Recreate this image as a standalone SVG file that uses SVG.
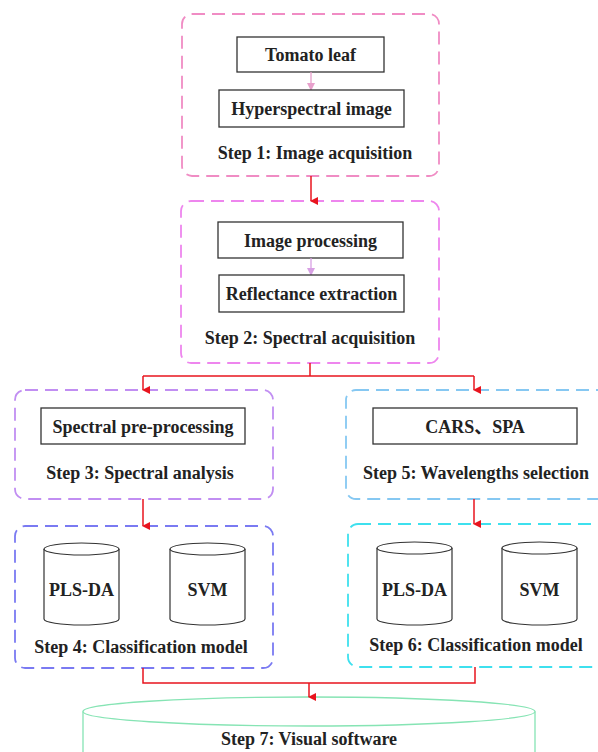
<svg xmlns="http://www.w3.org/2000/svg" width="598" height="752" viewBox="0 0 598 752">
<style>
text{font-family:"Liberation Serif","Times New Roman","Noto Sans CJK SC",serif;font-weight:bold;font-size:18px;fill:#222;text-anchor:middle}
.grp{fill:none;stroke-width:1.8;stroke-dasharray:13 7}
.box{fill:#fff;stroke:#333;stroke-width:1.3}
.cyl{fill:#fff;stroke:#333;stroke-width:1.2}
.red{fill:none;stroke:#e8141e;stroke-width:1.5}
</style>
<defs>
<marker id="ar" markerWidth="8" markerHeight="8" refX="4" refY="7" orient="auto" markerUnits="userSpaceOnUse" viewBox="0 0 8 8"><path d="M0,0 L8,0 L4,8 z" fill="#e8141e"/></marker>
<marker id="arp" markerWidth="8" markerHeight="8" refX="4" refY="7" markerUnits="userSpaceOnUse" viewBox="0 0 8 8"><path d="M0,0 L8,0 L4,8 z" fill="#e8a0cc"/></marker>
<marker id="arv" markerWidth="8" markerHeight="8" refX="4" refY="7" markerUnits="userSpaceOnUse" viewBox="0 0 8 8"><path d="M0,0 L8,0 L4,8 z" fill="#d8a0e4"/></marker>
</defs>

<g id="step1">
<rect class="grp" x="182" y="14" width="257" height="162" rx="10" stroke="#f08cc4"/>
<rect class="box" x="237" y="37" width="147" height="35"/>
<text x="310.5" y="61">Tomato leaf</text>
<line x1="311" y1="72" x2="311" y2="90" stroke="#e8a0cc" stroke-width="1.3" marker-end="url(#arp)"/>
<rect class="box" x="219" y="90" width="185" height="37"/>
<text x="311.5" y="115">Hyperspectral image</text>
<text x="315" y="159">Step 1: Image acquisition</text>
</g>

<g id="step2">
<rect class="grp" x="181" y="201" width="258" height="162" rx="10" stroke="#ee86ee"/>
<rect class="box" x="218" y="222" width="185" height="36"/>
<text x="310.5" y="247">Image processing</text>
<line x1="311" y1="258" x2="311" y2="275" stroke="#d8a0e4" stroke-width="1.3" marker-end="url(#arv)"/>
<rect class="box" x="219" y="275" width="185" height="37"/>
<text x="311.5" y="300">Reflectance extraction</text>
<text x="310" y="344">Step 2: Spectral acquisition</text>
</g>

<g id="step3">
<rect class="grp" x="15" y="390" width="258" height="109" rx="10" stroke="#c18ef2"/>
<rect class="box" x="41" y="408" width="204" height="36"/>
<text x="143" y="433">Spectral pre-processing</text>
<text x="140" y="479">Step 3: Spectral analysis</text>
</g>

<g id="step5">
<rect class="grp" x="346" y="390" width="262" height="109" rx="10" stroke="#86c8f2"/>
<rect class="box" x="373" y="408" width="204" height="36"/>
<text x="475" y="433">CARS、SPA</text>
<text x="476" y="479">Step 5: Wavelengths selection</text>
</g>

<g id="step4">
<rect class="grp" x="15" y="526" width="258" height="142" rx="10" stroke="#7a7af2"/>
<g id="plsda1">
<path class="cyl" d="M44,549 A37.5,6 0 0 1 119,549 L119,619 A37.5,6 0 0 1 44,619 Z"/>
<path class="cyl" fill="none" d="M44,549 A37.5,6 0 0 0 119,549"/>
<text x="81.5" y="596">PLS-DA</text>
</g>
<g id="svm1">
<path class="cyl" d="M170,549 A37.5,6 0 0 1 245,549 L245,619 A37.5,6 0 0 1 170,619 Z"/>
<path class="cyl" fill="none" d="M170,549 A37.5,6 0 0 0 245,549"/>
<text x="207.5" y="596">SVM</text>
</g>
<text x="141" y="653">Step 4: Classification model</text>
</g>

<g id="step6">
<rect class="grp" x="348" y="524" width="260" height="143" rx="10" stroke="#3ee0ee"/>
<g id="plsda2">
<path class="cyl" d="M377,548 A37.5,6 0 0 1 452,548 L452,619 A37.5,6 0 0 1 377,619 Z"/>
<path class="cyl" fill="none" d="M377,548 A37.5,6 0 0 0 452,548"/>
<text x="414.5" y="596">PLS-DA</text>
</g>
<g id="svm2">
<path class="cyl" d="M502,548 A37.5,6 0 0 1 577,548 L577,619 A37.5,6 0 0 1 502,619 Z"/>
<path class="cyl" fill="none" d="M502,548 A37.5,6 0 0 0 577,548"/>
<text x="539.5" y="596">SVM</text>
</g>
<text x="476" y="651">Step 6: Classification model</text>
</g>

<g id="step7">
<path d="M83,711.5 A226,14.5 0 0 1 535,711.5 L535,760 L83,760 Z" fill="#fff" stroke="#86e4b4" stroke-width="1.3"/>
<path d="M83,711.5 A226,14.5 0 0 0 535,711.5" fill="none" stroke="#86e4b4" stroke-width="1.3"/>
<text x="309" y="745">Step 7: Visual software</text>
</g>

<g id="connectors">
<line class="red" x1="311" y1="176" x2="311" y2="201" marker-end="url(#ar)"/>
<polyline class="red" points="310,363 310,376"/>
<polyline class="red" points="143,376 474,376"/>
<line class="red" x1="143" y1="376" x2="143" y2="390" marker-end="url(#ar)"/>
<line class="red" x1="474" y1="376" x2="474" y2="390" marker-end="url(#ar)"/>
<line class="red" x1="143" y1="499" x2="143" y2="526" marker-end="url(#ar)"/>
<line class="red" x1="474" y1="499" x2="474" y2="524" marker-end="url(#ar)"/>
<polyline class="red" points="143,668 143,683 475,683 475,667"/>
<line class="red" x1="309" y1="683" x2="309" y2="697" marker-end="url(#ar)"/>
</g>
</svg>
